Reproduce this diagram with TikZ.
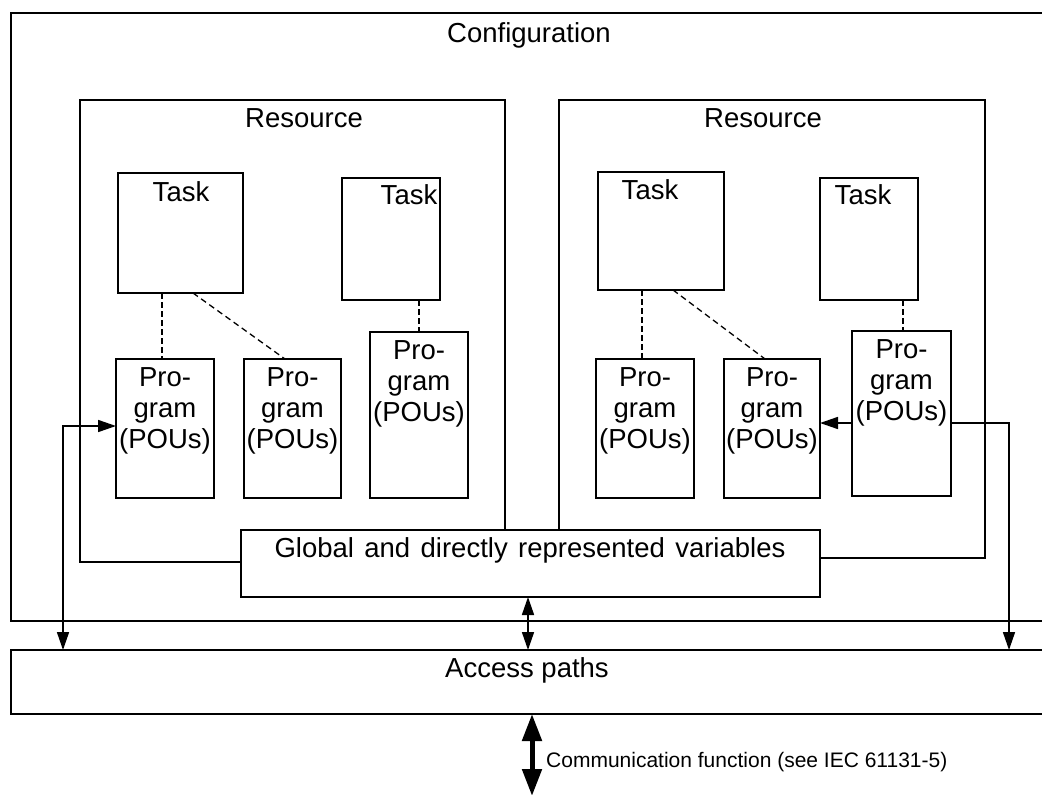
\documentclass[tikz,border=0pt]{standalone}
\usepackage{fontspec}
\setmainfont{Liberation Sans}
\usetikzlibrary{arrows.meta,calc}
\newcommand\mybox[6]{\node[#2, minimum width={#5pt-#3pt}, minimum height={#6pt-#4pt}] (#1) at ({(#3+#5)/2},{(#4+#6)/2}) {};}
\begin{document}
\begin{tikzpicture}[x=1pt,y=-1pt,
  thickbox/.style={draw, line width=2.4pt, inner sep=0pt, outer sep=0pt},
  thinbox/.style={draw, line width=1.6pt, inner sep=0pt, outer sep=0pt},
  lbl/.style={font=\fontsize{27.5}{31}\selectfont, inner sep=0pt, align=center},
  small/.style={font=\fontsize{21}{24}\selectfont, inner sep=0pt},
  respath/.style={line width=1.6pt, line join=miter},
  dashthick/.style={line width=2.6pt, dash pattern=on 6pt off 3pt},
  dashthin/.style={line width=1.3pt, dash pattern=on 6pt off 4pt},
  arr/.style={line width=1.6pt, -{Triangle[length=18pt,width=12pt]}},
  darr/.style={line width=1.6pt, {Triangle[length=18pt,width=12pt]}-{Triangle[length=18pt,width=12pt]}},
  bigarr/.style={line width=5pt, {Triangle[length=27pt,width=19pt]}-{Triangle[length=27pt,width=19pt]}},
]
\useasboundingbox (0,0) rectangle (1042,795);
\fill[white] (0,0) rectangle (1042,795);
\clip (0,0) rectangle (1042,795);

% outer boxes
\mybox{Conf}{thickbox}{11}{13}{1070}{621}
\mybox{Acc}{thickbox}{11}{650}{1070}{714}
\mybox{Glob}{thickbox}{241}{530}{820}{597}

\node[lbl, anchor=base] (confl) at (529,42) {Configuration};
\node[lbl, anchor=base] (accl) at (527,677) {Access paths};
\node[lbl, anchor=base] (globl) at (530,557) {Global\hspace{0.1em} and\hspace{0.1em} directly\hspace{0.1em} represented\hspace{0.1em} variables};

% resources
\draw[respath] (Glob.west |- 0,562) -- (80,562) -- (80,100) -- (505,100) -- (Glob.north -| 505,0);
\draw[respath] (Glob.north -| 559,0) -- (559,100) -- (985,100) -- (985,558) -- (Glob.east |- 0,558);
\node[lbl, anchor=base] (res1) at (304,127) {Resource};
\node[lbl, anchor=base] (res2) at (763,127) {Resource};

% tasks
\mybox{T1}{thinbox}{118}{173}{243}{293}
\mybox{T2}{thinbox}{342}{178}{440}{300}
\mybox{T3}{thinbox}{598}{172}{724}{290}
\mybox{T4}{thinbox}{820}{178}{918}{300}
\node[lbl, anchor=base] at (181,201) {Task};
\node[lbl, anchor=base] at (409,204) {Task};
\node[lbl, anchor=base] at (650,199) {Task};
\node[lbl, anchor=base] at (863,204) {Task};

% programs
\mybox{P1}{thinbox}{116}{359}{214}{498}
\mybox{P2}{thinbox}{244}{359}{341}{498}
\mybox{P3}{thinbox}{370}{332}{468}{498}
\mybox{P4}{thinbox}{596}{359}{694}{498}
\mybox{P5}{thinbox}{724}{359}{820}{498}
\mybox{P6}{thinbox}{852}{331}{951}{496}
\foreach \p in {P1,P2,P3,P4,P5,P6}{
  \node[lbl, anchor=north] at ($(\p.north)+(0,8)$) {Pro-\\gram\\(POUs)};
}

% task-program links
\draw[dashthick] (T1.south -| 162,0) -- (P1.north -| 162,0);
\draw[dashthin] (T1.south -| 193,0) -- (P2.north -| 285,0);
\draw[dashthick] (T2.south -| 419,0) -- (P3.north -| 419,0);
\draw[dashthick] (T3.south -| 642,0) -- (P4.north -| 642,0);
\draw[dashthin] (T3.south -| 673,0) -- (P5.north -| 765,0);
\draw[dashthick] (T4.south -| 903,0) -- (P6.north -| 903,0);

% arrows
\draw[darr] (P1.west |- 0,426) -| (Acc.north -| 63,0);
\draw[arr] (P6.east |- 0,423) -| (Acc.north -| 1009,0);
\draw[arr] (P6.west |- 0,423) -- (P5.east |- 0,423);
\draw[darr] (Glob.south -| 528,0) -- (Acc.north -| 528,0);
\coordinate (commend) at (532,796);
\draw[bigarr] (Acc.south -| 532,0) -- (commend);
\node[small, anchor=west] (comml) at (546,762) {Communication function (see IEC 61131-5)};
\end{tikzpicture}
\end{document}
